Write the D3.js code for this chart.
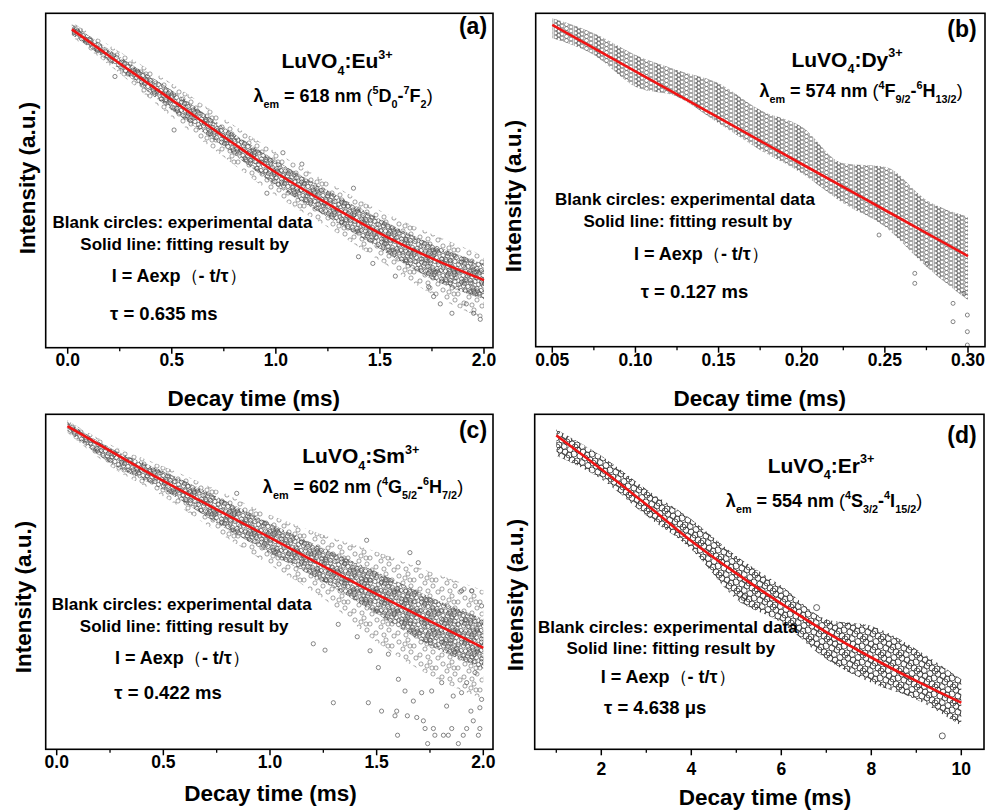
<!DOCTYPE html>
<html><head><meta charset="utf-8">
<script src="https://cdn.jsdelivr.net/npm/d3@7"></script>
<style>
body{margin:0;background:#fff}
text{font-family:"Liberation Sans",Arial,Helvetica,sans-serif;font-weight:bold;fill:#000}
</style>
</head><body>
<svg id="chart" width="988" height="812"></svg>
<script>
// ================= DATA =================
// Panel (a) LuVO4:Eu3+
const aTicks = [0, 0.5, 1.0, 1.5, 2.0];
const aTickLabels = ["0.0", "0.5", "1.0", "1.5", "2.0"];
const aMinor = [0.25, 0.75, 1.25, 1.75];
const aFitT = [0.02, 0.25, 0.5, 0.75, 1.0, 1.25, 1.5, 1.75, 2.0];
const aFitV = [95.2, 85.0, 74.1, 63.1, 52.4, 43.0, 34.2, 26.7, 20.2];
const aBandT = [0.02, 0.25, 0.5, 0.75, 1.0, 1.25, 1.5, 1.75, 2.0];
const aCoreHi = [96.8, 87.0, 77.0, 66.0, 56.0, 47.0, 38.5, 31.0, 25.0];
const aCoreLo = [93.6, 83.2, 71.0, 60.0, 48.5, 39.0, 29.5, 20.5, 14.5];
const aBandHi = [97.4, 88.5, 79.0, 68.5, 58.5, 49.5, 41.0, 34.0, 27.5];
const aBandLo = [93.0, 82.0, 69.0, 57.0, 45.5, 36.0, 26.0, 16.0, 8.5];
const aOutT = [0.227, 0.511, 0.957, 1.034, 1.125, 1.373, 1.397, 1.466, 1.574, 1.734, 1.758, 1.790, 1.846, 1.915, 1.950, 1.982];
const aOutV = [81.1, 65.1, 46.2, 58.3, 54.9, 47.7, 27.2, 25.2, 21.4, 18.2, 15.3, 13.1, 10.3, 13.1, 10.3, 8.5];

// Panel (b) LuVO4:Dy3+
const bTicks = [0.05, 0.10, 0.15, 0.20, 0.25, 0.30];
const bTickLabels = ["0.05", "0.10", "0.15", "0.20", "0.25", "0.30"];
const bMinor = [0.075, 0.125, 0.175, 0.225, 0.275];
const bFitT = [0.05, 0.10, 0.15, 0.20, 0.25, 0.30];
const bFitV = [96.5, 82.6, 68.7, 54.8, 41.0, 27.2];
const bBandT = [0.05, 0.075, 0.10, 0.125, 0.15, 0.175, 0.20, 0.225, 0.25, 0.275, 0.30];
const bBandHi = [98.5, 94.0, 87.5, 83.0, 79.0, 71.0, 66.0, 55.0, 54.0, 44.0, 39.0];
const bBandLo = [92.5, 87.5, 78.0, 75.0, 67.0, 59.0, 52.0, 43.0, 36.0, 24.0, 14.0];
const bOutT = [0.2465, 0.268, 0.268, 0.2755, 0.291, 0.291, 0.2996, 0.2996, 0.2996, 0.2976];
const bOutV = [33.5, 22.0, 19.0, 25.0, 13.0, 7.5, 9.5, 4.5, 0.5, 16.0];

// Panel (c) LuVO4:Sm3+
const cTicks = [0, 0.5, 1.0, 1.5, 2.0];
const cTickLabels = ["0.0", "0.5", "1.0", "1.5", "2.0"];
const cMinor = [0.25, 0.75, 1.25, 1.75];
const cFitT = [0.05, 0.5, 1.0, 1.5, 2.0];
const cFitV = [96.5, 80.1, 63.2, 46.3, 30.3];
const cBandT = [0.05, 0.25, 0.5, 0.75, 1.0, 1.25, 1.5, 1.75, 2.0];
const cCoreHi = [97.8, 90.0, 83.0, 75.5, 67.5, 60.0, 53.0, 45.5, 39.0];
const cCoreLo = [95.0, 85.5, 77.5, 67.5, 58.5, 50.0, 40.5, 31.0, 24.0];
const cBandHi = [98.2, 91.0, 84.5, 77.5, 70.0, 64.0, 59.0, 53.0, 47.5];
const cBandLo = [94.5, 84.5, 75.5, 65.0, 55.0, 45.0, 32.0, 22.0, 15.0];
const cOutT = [1.297, 1.461, 1.523, 1.594, 1.586, 1.598, 1.644, 1.688, 1.719, 1.727, 1.739, 1.766, 1.773, 1.813, 1.836, 1.852, 1.883, 1.906, 1.922, 1.953, 1.984, 1.977, 1.942, 1.984,
  1.203, 1.258, 1.409, 1.320, 1.469, 1.508, 1.555, 1.602, 1.633, 1.672, 1.711, 1.758, 1.805, 1.828, 1.859, 1.898, 1.922, 1.961, 1.992, 1.453, 1.656, 1.695, 0.844, 1.898, 1.945, 1.992];
const cOutV = [13.9, 13.9, 11.4, 11.4, 10.0, 4.2, 10.0, 9.5, 8.5, 6.2, 1.7, 6.2, 4.2, 4.2, 4.2, 6.2, 1.7, 4.2, 6.2, 8.5, 6.2, 4.2, 11.4, 12.4,
  31.5, 29.6, 33.6, 37.3, 29.4, 24.4, 28.4, 20.9, 17.4, 14.4, 16.9, 17.4, 19.9, 12.9, 15.9, 16.9, 19.9, 22.9, 14.9, 62.4, 58.7, 55.7, 76.4, 47.3, 47.3, 42.8];

// Panel (d) LuVO4:Er3+
const dTicks = [2, 4, 6, 8, 10];
const dTickLabels = ["2", "4", "6", "8", "10"];
const dMinor = [1, 3, 5, 7, 9];
const dFitT = [1, 2, 3, 4, 5, 6, 7, 8, 9, 10];
const dFitV = [93.7, 83.6, 73.1, 62.2, 52.5, 43.5, 35.0, 27.4, 20.4, 13.9];
const dBandT = [1, 2, 3, 4, 5, 6, 7, 8, 9, 10];
const dBandHi = [95.5, 87.6, 77.6, 68.7, 57.7, 48.8, 38.8, 36.8, 29.9, 20.9];
const dBandLo = [87.6, 80.6, 69.7, 59.7, 44.8, 37.8, 26.9, 19.9, 14.9, 7.0];
const dOutT = [6.785, 9.578, 5.17];
const dOutV = [42.3, 4.0, 45.3];

// ================= DRAWING =================
const svg = d3.select("#chart");
const defs = svg.append("defs");

// texture tiles used to fill the scatter envelopes (styling only)
function makePattern(id, w, h, pts, r, stroke, sw) {
  const p = defs.append("pattern").attr("id", id).attr("patternUnits", "userSpaceOnUse")
    .attr("width", w).attr("height", h);
  pts.forEach(([cx, cy]) => {
    for (const dx of [-w, 0, w]) for (const dy of [-h, 0, h]) {
      p.append("circle").attr("cx", cx + dx).attr("cy", cy + dy).attr("r", r)
        .attr("fill", "none").attr("stroke", stroke).attr("stroke-width", sw);
    }
  });
}
makePattern("pDense", 20, 20, [[1.5, 2], [6, 1], [10.5, 3], [15, 1.5], [18.5, 4.5], [3.5, 6], [8, 6.5], [12.5, 7.5],
  [17, 8.5], [1, 10.5], [5.5, 11], [10, 11.5], [14.5, 12.5], [19, 13], [3, 15.5], [7.5, 16], [12, 17], [16.5, 17.5],
  [1.5, 19], [6, 19.5], [10.5, 20.5], [14, 15], [8.5, 13.5], [4.5, 3.5], [13, 10], [17.5, 11]], 2.1, "#484848", 0.65);
makePattern("pSparse", 22, 22, [[3, 4], [12, 2], [18, 8], [7, 11], [15, 14], [2, 17], [10, 19], [20, 20], [9, 6], [14, 8]], 2.1, "#606060", 0.6);
makePattern("pCols", 20, 4, [[2, 2], [6.5, 0.5], [11, 3], [16, 1], [18.5, 3.2]], 2.0, "#505050", 0.6);
makePattern("pBig", 18, 16, [[2, 2], [7, 4], [12, 1.5], [16, 6], [4, 8], [9, 10], [14, 12], [1, 13], [6, 14.5], [11, 7], [17, 15]], 3.0, "#2a2a2a", 0.7);

const zip = (t, v) => t.map((d, i) => [d, v[i]]);
const zip3 = (t, hi, lo) => t.map((d, i) => ({t: d, hi: hi[i], lo: lo[i]}));

const panels = [
  {id: "a", frame: [45.7, 493, 13.3, 347.7], xd: [0, 2], xr: [67.7, 484],
   ticks: aTicks, labels: aTickLabels, minor: aMinor, tickY: 366,
   fit: zip(aFitT, aFitV), outer: zip3(aBandT, aBandHi, aBandLo), core: zip3(aBandT, aCoreHi, aCoreLo),
   outPat: "pSparse", corePat: "pDense", out: zip(aOutT, aOutV), r: 2.1, pstroke: "#555",
   letter: ["(a)", 473, 34], xlab: [253.7, 406], ylab: [27, 178]},
  {id: "b", frame: [535.7, 985, 13.3, 346.7], xd: [0.05, 0.30], xr: [552.3, 968],
   ticks: bTicks, labels: bTickLabels, minor: bMinor, tickY: 366,
   fit: zip(bFitT, bFitV), outer: zip3(bBandT, bBandHi, bBandLo), core: null,
   outPat: "pCols", out: zip(bOutT, bOutV), r: 2.0, pstroke: "#555",
   letter: ["(b)", 962, 37], xlab: [759.7, 406], ylab: [513, 196]},
  {id: "c", frame: [45.7, 493, 414.3, 749.3], xd: [0, 2], xr: [56.7, 483.3],
   ticks: cTicks, labels: cTickLabels, minor: cMinor, tickY: 767.7,
   fit: zip(cFitT, cFitV), outer: zip3(cBandT, cBandHi, cBandLo), core: zip3(cBandT, cCoreHi, cCoreLo),
   outPat: "pSparse", corePat: "pDense", out: zip(cOutT, cOutV), r: 2.1, pstroke: "#555",
   letter: ["(c)", 473, 437.7], xlab: [270.5, 801], ylab: [23, 597]},
  {id: "d", frame: [534.7, 984, 414.3, 749.3], xd: [2, 10], xr: [601.3, 961.3],
   ticks: dTicks, labels: dTickLabels, minor: dMinor, tickY: 775,
   fit: zip(dFitT, dFitV), outer: zip3(dBandT, dBandHi, dBandLo), core: null,
   outPat: "pBig", out: zip(dOutT, dOutV), r: 3.0, pstroke: "#222",
   letter: ["(d)", 962, 442.7], xlab: [765, 805], ylab: [514.8, 595]}
];

// text annotations per panel
const texts = {
  a: {cmp: [337, 68, "Eu"], lam: [343, 102, "618", ["5", "D", "0"], ["7", "F", "2"]],
      b1: [182.5, 228], b2: [184.7, 250], f: [111.7, 281.7], tau: [110, 320, "0.635 ms"]},
  b: {cmp: [847, 66.7, "Dy"], lam: [861, 97, "574", ["4", "F", "9/2"], ["6", "H", "13/2"]],
      b1: [685, 205], b2: [687.8, 226.7], f: [634, 260], tau: [640.7, 297.7, "0.127 ms"]},
  c: {cmp: [360.8, 463.3, "Sm"], lam: [363, 493.3, "602", ["4", "G", "5/2"], ["6", "H", "7/2"]],
      b1: [181.7, 610], b2: [184.2, 632], f: [115, 664.3], tau: [114.3, 698.7, "0.422 ms"]},
  d: {cmp: [821, 472.7, "Er"], lam: [824, 507, "554", ["4", "S", "3/2"], ["4", "I", "15/2"]],
      b1: [667.8, 632.7], b2: [670.8, 654.3], f: [600.7, 682.7], tau: [604, 714.3, "4.638 μs"]}
};

function rich(g, x, y, size, anchor, segs) {
  const t = g.append("text").attr("x", x).attr("y", y).attr("font-size", size).attr("text-anchor", anchor);
  let cur = 0;
  segs.forEach(([str, kind]) => {
    let fs = size, off = 0;
    if (kind === "sub") { fs = size * 0.6; off = size * 0.32; }
    if (kind === "sup") { fs = size * 0.6; off = -size * 0.45; }
    const sp = t.append("tspan").attr("font-size", fs).attr("dy", off - cur).text(str);
    if (kind === "thin") sp.attr("font-weight", "normal");
    cur = off;
  });
  return t;
}

panels.forEach(p => {
  const [fx0, fx1, fy0, fy1] = p.frame;
  const x = d3.scaleLinear().domain(p.xd).range(p.xr);
  const y = d3.scaleLinear().domain([0, 100]).range([fy1, fy0]);
  const g = svg.append("g");
  const clipId = "clip-" + p.id;
  defs.append("clipPath").attr("id", clipId).append("rect")
    .attr("x", fx0).attr("y", fy0).attr("width", fx1 - fx0).attr("height", fy1 - fy0);
  const pg = g.append("g").attr("clip-path", `url(#${clipId})`);

  const area = d3.area().x(d => x(d.t)).y0(d => y(d.lo)).y1(d => y(d.hi)).curve(d3.curveMonotoneX);
  pg.append("path").datum(p.outer).attr("d", area).attr("fill", `url(#${p.outPat})`);
  if (p.core) pg.append("path").datum(p.core).attr("d", area).attr("fill", `url(#${p.corePat})`);

  pg.selectAll("circle.o").data(p.out).join("circle").attr("class", "o")
    .attr("cx", d => x(d[0])).attr("cy", d => y(d[1])).attr("r", p.r)
    .attr("fill", "none").attr("stroke", p.pstroke).attr("stroke-width", 0.7);

  const line = d3.line().x(d => x(d[0])).y(d => y(d[1])).curve(d3.curveMonotoneX);
  pg.append("path").datum(p.fit).attr("d", line).attr("fill", "none")
    .attr("stroke", "#f01414").attr("stroke-width", 2.6);

  // frame
  g.append("rect").attr("x", fx0).attr("y", fy0).attr("width", fx1 - fx0).attr("height", fy1 - fy0)
    .attr("fill", "none").attr("stroke", "#000").attr("stroke-width", 1.6);

  // ticks
  g.selectAll("line.maj").data(p.ticks).join("line")
    .attr("x1", d => x(d)).attr("x2", d => x(d)).attr("y1", fy1).attr("y2", fy1 + 6)
    .attr("stroke", "#000").attr("stroke-width", 1.5);
  g.selectAll("line.min").data(p.minor).join("line")
    .attr("x1", d => x(d)).attr("x2", d => x(d)).attr("y1", fy1).attr("y2", fy1 + 3.5)
    .attr("stroke", "#000").attr("stroke-width", 1.3);
  g.selectAll("text.tl").data(p.ticks).join("text").attr("class", "tl")
    .attr("x", d => x(d)).attr("y", p.tickY).attr("text-anchor", "middle").attr("font-size", 17.5)
    .text((d, i) => p.labels[i]);

  // axis titles
  g.append("text").attr("x", p.xlab[0]).attr("y", p.xlab[1]).attr("text-anchor", "middle")
    .attr("font-size", 22.5).text("Decay time (ms)");
  g.append("text").attr("transform", `translate(${p.ylab[0]},${p.ylab[1]}) rotate(-90)`)
    .attr("text-anchor", "middle").attr("dy", "0.36em").attr("font-size", 22.5).text("Intensity (a.u.)");

  // letter
  g.append("text").attr("x", p.letter[1]).attr("y", p.letter[2]).attr("text-anchor", "middle")
    .attr("font-size", 23).text(p.letter[0]);

  const tx = texts[p.id];
  rich(g, tx.cmp[0], tx.cmp[1], 21, "middle",
    [["LuVO", null], ["4", "sub"], [":" + tx.cmp[2], null], ["3+", "sup"]]);
  rich(g, tx.lam[0], tx.lam[1], 18, "middle",
    [["λ", null], ["em", "sub"], [" = " + tx.lam[2] + " nm ", null], ["(", "thin"],
     [tx.lam[3][0], "sup"], [tx.lam[3][1], null], [tx.lam[3][2], "sub"], ["-", null],
     [tx.lam[4][0], "sup"], [tx.lam[4][1], null], [tx.lam[4][2], "sub"], [")", "thin"]]);
  g.append("text").attr("x", tx.b1[0]).attr("y", tx.b1[1]).attr("text-anchor", "middle")
    .attr("font-size", 17).text("Blank circles: experimental data");
  g.append("text").attr("x", tx.b2[0]).attr("y", tx.b2[1]).attr("text-anchor", "middle")
    .attr("font-size", 17).text("Solid line: fitting result by");
  rich(g, tx.f[0], tx.f[1], 18, "start",
    [["I = Aexp", null], ["（", "thin"], ["- t/τ", null], ["）", "thin"]]);
  g.append("text").attr("x", tx.tau[0]).attr("y", tx.tau[1]).attr("font-size", 18.5)
    .text("τ = " + tx.tau[2]);
});
</script>
</body></html>
